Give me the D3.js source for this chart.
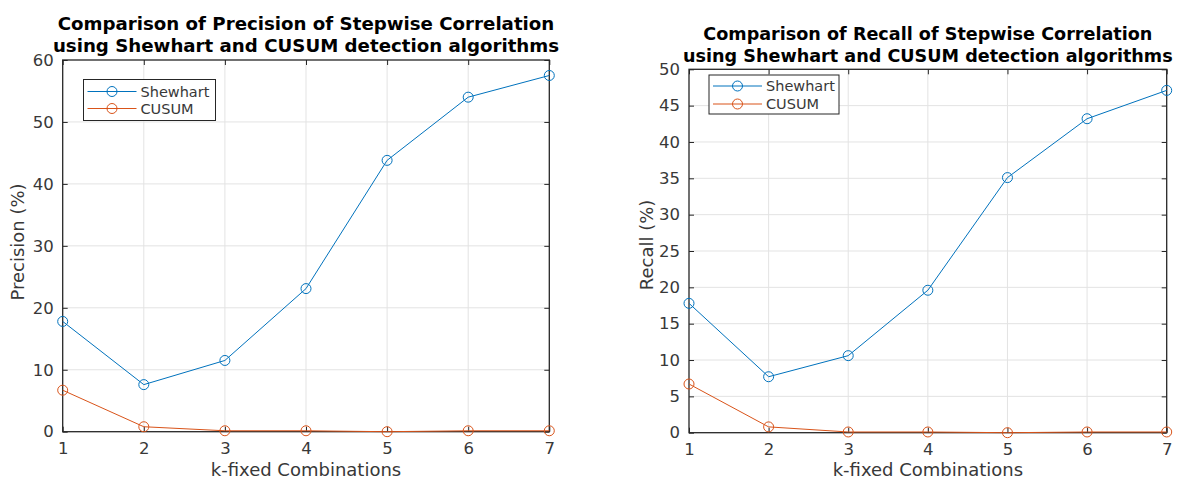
<!DOCTYPE html>
<html>
<head>
<meta charset="utf-8">
<script src="https://cdn.jsdelivr.net/npm/d3@7"></script>
<style>
    html, body { margin: 0; padding: 0; background: #ffffff; }
    svg { display: block; font-family: "DejaVu Sans", sans-serif; }
</style>
</head>
<body>
<div id="chart"></div>
<script>
// Stepwise correlation results

const kValues = [1, 2, 3, 4, 5, 6, 7];
const seriesNames = ["Shewhart", "CUSUM"];

const precisionShewhart = [17.8, 7.6, 11.5, 23.1, 43.8, 54.0, 57.5];
const precisionCusum = [6.7, 0.8, 0.15, 0.15, 0, 0.15, 0.15];
const precisionTicks = [0, 10, 20, 30, 40, 50, 60];

const recallShewhart = [17.8, 7.7, 10.6, 19.6, 35.1, 43.2, 47.1];
const recallCusum = [6.7, 0.8, 0.1, 0.1, 0, 0.1, 0.1];
const recallTicks = [0, 5, 10, 15, 20, 25, 30, 35, 40, 45, 50];

const titleLines = {
    precision: ["Comparison of Precision of Stepwise Correlation", "using Shewhart and CUSUM detection algorithms"],
    recall: ["Comparison of Recall of Stepwise Correlation", "using Shewhart and CUSUM detection algorithms"]
};

document.addEventListener('DOMContentLoaded', () => {
    const width = 1178;
    const height = 479;

    const colors = ["#0072BD", "#D95319"]; // MATLAB default line colours
    const axisColor = "#262626";
    const textColor = "#383838";
    const gridColor = "#e3e3e3";

    const svg = d3.select("#chart").append("svg")
        .attr("width", width)
        .attr("height", height)
        .attr("viewBox", [0, 0, width, height]);

    function drawPanel(p) {
        const g = svg.append("g");

        const x = d3.scaleLinear().domain([1, 7]).range([p.left, p.right]);
        const y = d3.scaleLinear().domain([0, p.yMax]).range([p.bottom, p.top]);

        // grid lines
        g.append("g").selectAll("line.vx")
            .data(kValues.slice(1, -1))
            .enter().append("line")
            .attr("x1", d => x(d)).attr("x2", d => x(d))
            .attr("y1", p.top).attr("y2", p.bottom)
            .attr("stroke", gridColor).attr("stroke-width", 1);
        g.append("g").selectAll("line.hy")
            .data(p.ticks.slice(1, -1))
            .enter().append("line")
            .attr("x1", p.left).attr("x2", p.right)
            .attr("y1", d => y(d)).attr("y2", d => y(d))
            .attr("stroke", gridColor).attr("stroke-width", 1);

        // axes (ticks point inward, box on all four sides)
        const tickLen = 5;
        const styleAxis = sel => {
            sel.select(".domain").remove();
            sel.selectAll(".tick line").attr("stroke", axisColor).attr("stroke-width", 1);
            sel.selectAll(".tick text")
                .attr("fill", textColor)
                .style("font-size", "16.5px")
                .style("font-family", "DejaVu Sans, sans-serif");
        };

        g.append("g")
            .attr("transform", `translate(0,${p.bottom})`)
            .call(d3.axisBottom(x).tickValues(kValues).tickSize(-tickLen).tickPadding(11).tickFormat(d3.format("d")))
            .call(styleAxis);
        g.append("g")
            .attr("transform", `translate(0,${p.top})`)
            .call(d3.axisTop(x).tickValues(kValues).tickSize(-tickLen).tickFormat(""))
            .call(styleAxis);
        g.append("g")
            .attr("transform", `translate(${p.left},0)`)
            .call(d3.axisLeft(y).tickValues(p.ticks).tickSize(-tickLen).tickPadding(9).tickFormat(d3.format("d")))
            .call(styleAxis);
        g.append("g")
            .attr("transform", `translate(${p.right},0)`)
            .call(d3.axisRight(y).tickValues(p.ticks).tickSize(-tickLen).tickFormat(""))
            .call(styleAxis);

        g.append("rect")
            .attr("x", p.left).attr("y", p.top)
            .attr("width", p.right - p.left).attr("height", p.bottom - p.top)
            .attr("fill", "none")
            .attr("stroke", axisColor)
            .attr("stroke-width", 1.3);

        // data lines + circle markers
        const line = d3.line().x((d, i) => x(kValues[i])).y(d => y(d));
        p.series.forEach((values, si) => {
            g.append("path")
                .datum(values)
                .attr("d", line)
                .attr("fill", "none")
                .attr("stroke", colors[si])
                .attr("stroke-width", 1);
            g.append("g").selectAll("circle")
                .data(values)
                .enter().append("circle")
                .attr("cx", (d, i) => x(kValues[i]))
                .attr("cy", d => y(d))
                .attr("r", 5)
                .attr("fill", "none")
                .attr("stroke", colors[si])
                .attr("stroke-width", 1);
        });

        // title, two bold lines
        g.append("text")
            .attr("x", (p.left + p.right) / 2)
            .attr("y", p.titleY)
            .attr("text-anchor", "middle")
            .style("font-size", p.titleSize + "px")
            .style("font-weight", "bold")
            .attr("fill", "#000")
            .selectAll("tspan")
            .data(p.title)
            .enter().append("tspan")
            .attr("x", (p.left + p.right) / 2)
            .attr("dy", (d, i) => i === 0 ? 0 : 22.3)
            .text(d => d);

        // axis labels
        g.append("text")
            .attr("x", (p.left + p.right) / 2)
            .attr("y", 476)
            .attr("text-anchor", "middle")
            .style("font-size", "18px")
            .attr("fill", textColor)
            .text("k-fixed Combinations");
        g.append("text")
            .attr("transform", `translate(${p.yLabelX},${p.yLabelY}) rotate(-90)`)
            .attr("text-anchor", "middle")
            .attr("dy", "0.35em")
            .style("font-size", "18px")
            .attr("fill", textColor)
            .text(p.yLabel);

        // legend box
        const lg = g.append("g").attr("transform", `translate(${p.legendX},${p.legendY})`);
        lg.append("rect")
            .attr("width", p.legendW).attr("height", p.legendH)
            .attr("fill", "#fff")
            .attr("stroke", axisColor)
            .attr("stroke-width", 1);
        const rows = lg.selectAll("g.row")
            .data(seriesNames)
            .enter().append("g")
            .attr("transform", (d, i) => `translate(0,${p.legendRow0 + i * p.legendRowStep})`);
        rows.append("line")
            .attr("x1", 4).attr("x2", 53)
            .attr("stroke", (d, i) => colors[i]).attr("stroke-width", 1);
        rows.append("circle")
            .attr("cx", 28.5).attr("r", 5)
            .attr("fill", "none")
            .attr("stroke", (d, i) => colors[i]).attr("stroke-width", 1);
        rows.append("text")
            .attr("x", 57)
            .attr("dy", "0.36em")
            .style("font-size", "14.5px")
            .attr("fill", textColor)
            .text(d => d);
    }

    drawPanel({
        left: 62.7, right: 549.3, top: 60, bottom: 431.7,
        yMax: 60, ticks: precisionTicks,
        series: [precisionShewhart, precisionCusum],
        title: titleLines.precision, titleY: 30, titleSize: 18.2,
        yLabel: "Precision (%)", yLabelX: 18, yLabelY: 242,
        legendX: 83.5, legendY: 79.5, legendW: 132, legendH: 41,
        legendRow0: 12, legendRowStep: 17
    });

    drawPanel({
        left: 689, right: 1166.7, top: 69.3, bottom: 432.7,
        yMax: 50, ticks: recallTicks,
        series: [recallShewhart, recallCusum],
        title: titleLines.recall, titleY: 39.5, titleSize: 17.6,
        yLabel: "Recall (%)", yLabelX: 647, yLabelY: 245,
        legendX: 709, legendY: 75, legendW: 130, legendH: 39,
        legendRow0: 11, legendRowStep: 18
    });
});
</script>
</body>
</html>
